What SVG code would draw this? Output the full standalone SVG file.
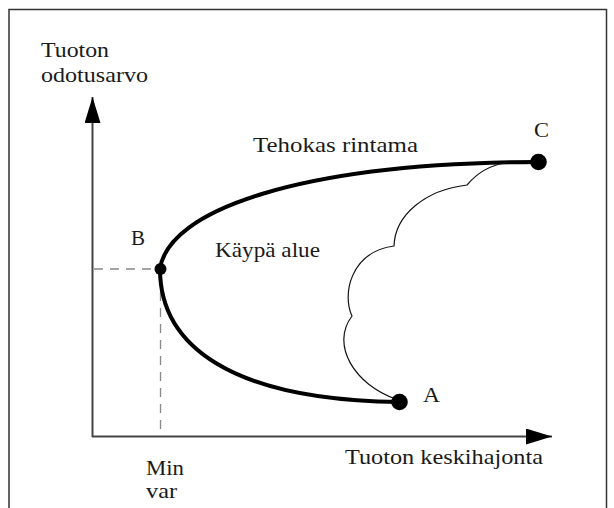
<svg xmlns="http://www.w3.org/2000/svg" width="614" height="508" viewBox="0 0 614 508">
<style>
text{font-family:"Liberation Serif","DejaVu Serif","Times New Roman",serif;font-size:21px;fill:#1a1a1a}
.axis{stroke:#444;stroke-width:2;fill:none}
.dash{stroke:#888;stroke-width:1.3;stroke-dasharray:9,7;fill:none}
.front{stroke:#000;stroke-width:4;fill:none;stroke-linecap:round}
.cloud{stroke:#111;stroke-width:1.2;fill:none}
.dot{fill:#000}
</style>
<defs>
<marker id="ah" viewBox="0 0 26 16" refX="26" refY="8" markerWidth="26" markerHeight="16" markerUnits="userSpaceOnUse" orient="auto">
<path d="M0,0 L26,8 L0,16 Z" fill="#000"/>
</marker>
</defs>
<rect x="0" y="0" width="614" height="508" fill="#fff"/>
<path d="M9,520 V9.5 H606.5 V520" fill="none" stroke="#333" stroke-width="1.5"/>
<g id="connectors">
<line class="axis" x1="92.5" y1="437" x2="92.5" y2="97" marker-end="url(#ah)"/>
<line class="axis" x1="92" y1="436.5" x2="552" y2="436.5" marker-end="url(#ah)"/>
<line class="dash" x1="94" y1="269" x2="160" y2="269"/>
<line class="dash" x1="160.5" y1="276" x2="160.5" y2="436"/>
<path class="front" d="M160,269 C168,210 300,163 538,162"/>
<path class="front" d="M160,269 C160,345 230,400 399,402"/>
<path class="cloud" d="M396,399 C355,385 330,345 352,316 C342,295 350,252 394,246 C395,215 425,190 467,185 C478,172 492,165 505,163"/>
</g>
<g id="B"><circle class="dot" cx="160.5" cy="269" r="6"/><text x="131" y="245" textLength="14" lengthAdjust="spacingAndGlyphs">B</text></g>
<g id="C"><circle class="dot" cx="538.5" cy="162" r="8.3"/><text x="534" y="137" textLength="15" lengthAdjust="spacingAndGlyphs">C</text></g>
<g id="A"><circle class="dot" cx="399.5" cy="402" r="8.3"/><text x="423" y="402" textLength="17" lengthAdjust="spacingAndGlyphs">A</text></g>
<g id="labels">
<text x="41" y="57" textLength="68" lengthAdjust="spacingAndGlyphs">Tuoton</text>
<text x="41" y="82" textLength="107" lengthAdjust="spacingAndGlyphs">odotusarvo</text>
<text x="253" y="152" textLength="165" lengthAdjust="spacingAndGlyphs">Tehokas rintama</text>
<text x="215" y="257" textLength="105" lengthAdjust="spacingAndGlyphs">Käypä alue</text>
<text x="345" y="464" textLength="198" lengthAdjust="spacingAndGlyphs">Tuoton keskihajonta</text>
<text x="146" y="475" textLength="38" lengthAdjust="spacingAndGlyphs">Min</text>
<text x="146" y="498" textLength="31" lengthAdjust="spacingAndGlyphs">var</text>
</g>
</svg>
